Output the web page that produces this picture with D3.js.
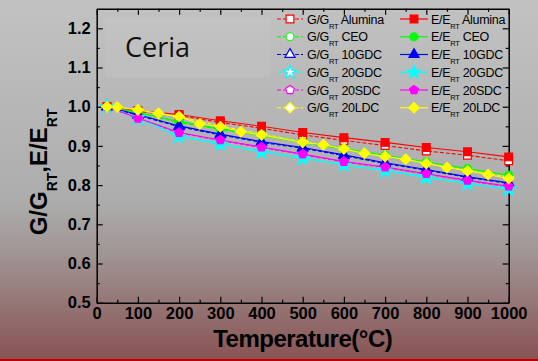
<!DOCTYPE html>
<html>
<head>
<meta charset="utf-8">
<script src="https://cdn.jsdelivr.net/npm/d3@7"></script>
<style>
  body { margin: 0; }
  svg { display: block; }
</style>
</head>
<body>
<svg id="chart" width="538" height="361"></svg>
<script>
const width = 538;
const height = 361;

// temperatures (°C)
const temps = [25, 100, 200, 300, 400, 500, 600, 700, 800, 900, 1000];
const tempsLDC = [25, 50, 100, 150, 200, 250, 300, 350, 400, 500, 550, 600, 650, 700, 750, 800, 850, 900, 950, 1000];

// G/G_RT (dashed, open symbols)
const gAlumina = [1.0, 0.988, 0.977, 0.960, 0.945, 0.928, 0.914, 0.901, 0.887, 0.876, 0.862];
const gCEO     = [1.0, 0.984, 0.960, 0.942, 0.926, 0.908, 0.891, 0.874, 0.857, 0.840, 0.823];
const g10GDC   = [1.0, 0.978, 0.949, 0.928, 0.909, 0.894, 0.875, 0.855, 0.838, 0.820, 0.804];
const g20GDC   = [1.0, 0.970, 0.924, 0.904, 0.884, 0.868, 0.851, 0.836, 0.819, 0.803, 0.789];
const g20SDC   = [1.0, 0.970, 0.933, 0.914, 0.896, 0.878, 0.859, 0.845, 0.828, 0.811, 0.796];
const g20LDC   = [1.0, 0.991, 0.974, 0.951, 0.930, 0.911, 0.894, 0.875, 0.857, 0.839, 0.821];

// E/E_RT (solid, filled symbols)
const eAlumina = [1.0, 0.990, 0.980, 0.964, 0.950, 0.934, 0.921, 0.909, 0.896, 0.885, 0.872];
const eCEO     = [1.0, 0.986, 0.962, 0.944, 0.928, 0.910, 0.893, 0.876, 0.859, 0.842, 0.825];
const e10GDC   = [1.0, 0.980, 0.951, 0.930, 0.911, 0.896, 0.877, 0.857, 0.840, 0.821, 0.806];
const e20GDC   = [1.0, 0.972, 0.926, 0.906, 0.885, 0.870, 0.852, 0.838, 0.821, 0.804, 0.790];
const e20SDC   = [1.0, 0.971, 0.934, 0.915, 0.897, 0.879, 0.860, 0.846, 0.829, 0.812, 0.797];
const e20LDC   = [1.0, 0.999, 0.992, 0.983, 0.975, 0.956, 0.949, 0.936, 0.928, 0.909, 0.903,
                  0.892, 0.881, 0.873, 0.866, 0.855, 0.845, 0.836, 0.827, 0.817];

const materials = ["Alumina", "CEO", "10GDC", "20GDC", "20SDC", "20LDC"];
const colors = ["#ff0000", "#00ff00", "#0000ff", "#00ffff", "#ff00ff", "#ffff00"];

const xTicks = [0, 100, 200, 300, 400, 500, 600, 700, 800, 900, 1000];
const xMinor = [50, 150, 250, 350, 450, 550, 650, 750, 850, 950];
const yTicks = [0.5, 0.6, 0.7, 0.8, 0.9, 1.0, 1.1, 1.2];
const yMinor = [0.55, 0.65, 0.75, 0.85, 0.95, 1.05, 1.15];

// custom symbols
const symbolPentagon = {
    draw(ctx, size) {
        const r = Math.sqrt(size / 2.378);
        for (let i = 0; i < 5; i++) {
            const a = -Math.PI / 2 + i * 2 * Math.PI / 5;
            if (i === 0) ctx.moveTo(r * Math.cos(a), r * Math.sin(a));
            else ctx.lineTo(r * Math.cos(a), r * Math.sin(a));
        }
        ctx.closePath();
    }
};
const symbolRhomb = {
    draw(ctx, size) {
        const r = Math.sqrt(size / 2);
        ctx.moveTo(0, -r); ctx.lineTo(r, 0); ctx.lineTo(0, r); ctx.lineTo(-r, 0);
        ctx.closePath();
    }
};
const symbols = [
    [d3.symbolSquare, 60],
    [d3.symbolCircle, 50],
    [d3.symbolTriangle, 45],
    [d3.symbolStar, 55],
    [symbolPentagon, 50],
    [symbolRhomb, 54]
];

const series = [
    { type: "G", x: temps, y: gAlumina, k: 0 },
    { type: "G", x: temps, y: gCEO, k: 1 },
    { type: "G", x: temps, y: g10GDC, k: 2 },
    { type: "G", x: temps, y: g20GDC, k: 3 },
    { type: "G", x: temps, y: g20SDC, k: 4 },
    { type: "G", x: temps, y: g20LDC, k: 5 },
    { type: "E", x: temps, y: eAlumina, k: 0 },
    { type: "E", x: temps, y: eCEO, k: 1 },
    { type: "E", x: temps, y: e10GDC, k: 2 },
    { type: "E", x: temps, y: e20GDC, k: 3 },
    { type: "E", x: temps, y: e20SDC, k: 4 },
    { type: "E", x: tempsLDC, y: e20LDC, k: 5 }
];

const svg = d3.select("#chart");

// background
const defs = svg.append("defs");
const grad = defs.append("linearGradient")
    .attr("id", "bg").attr("x1", 0).attr("y1", 0).attr("x2", 0).attr("y2", 1);
grad.append("stop").attr("offset", "0").attr("stop-color", "#c2c2c2");
grad.append("stop").attr("offset", "0.55").attr("stop-color", "#adadad");
grad.append("stop").attr("offset", "0.7").attr("stop-color", "#a09595");
grad.append("stop").attr("offset", "1").attr("stop-color", "#885252");
svg.append("rect").attr("width", width).attr("height", height).attr("fill", "url(#bg)");
svg.append("rect").attr("x", 0).attr("y", 359).attr("width", width).attr("height", 2).attr("fill", "#c00000");

const x = d3.scaleLinear().domain([0, 1000]).range([96.7, 508.7]);
const y = d3.scaleLinear().domain([0.5, 1.25]).range([302.7, 8.7]);

// Ceria box
svg.append("rect")
    .attr("x", 105).attr("y", 18).attr("width", 165).attr("height", 59)
    .attr("fill", "#ffffff").attr("opacity", 0.06);
svg.append("text")
    .attr("x", 125).attr("y", 57)
    .attr("font-family", "'Open Sans', sans-serif")
    .attr("font-size", "27px")
    .attr("fill", "#111")
    .text("Ceria");

// axes
const tickFont = "'Liberation Sans', Arial, sans-serif";
function styleAxis(g) {
    g.selectAll("path.domain").attr("stroke", "#000").attr("stroke-width", 1.5);
    g.selectAll(".tick line").attr("stroke", "#000").attr("stroke-width", 1.2);
    g.selectAll("text")
        .attr("font-family", tickFont)
        .attr("font-weight", "bold")
        .attr("font-size", "16.5px")
        .attr("fill", "#000");
}

const axisB = svg.append("g").attr("transform", `translate(0,${y(0.5)})`);
axisB.call(d3.axisBottom(x).tickValues(xTicks).tickSize(-6).tickSizeOuter(0).tickPadding(5).tickFormat(d3.format("d"))).call(styleAxis);
axisB.append("g").call(d3.axisBottom(x).tickValues(xMinor).tickSize(-3).tickSizeOuter(0).tickFormat(""))
    .call(g => g.select(".domain").remove()).call(styleAxis);

const axisT = svg.append("g").attr("transform", `translate(0,${y(1.25)})`);
axisT.call(d3.axisTop(x).tickValues(xTicks).tickSize(-6).tickSizeOuter(0).tickFormat("")).call(styleAxis);
axisT.append("g").call(d3.axisTop(x).tickValues(xMinor).tickSize(-3).tickSizeOuter(0).tickFormat(""))
    .call(g => g.select(".domain").remove()).call(styleAxis);

const axisL = svg.append("g").attr("transform", `translate(${x(0)},0)`);
axisL.call(d3.axisLeft(y).tickValues(yTicks).tickSize(-6).tickSizeOuter(0).tickPadding(6).tickFormat(d3.format(".1f"))).call(styleAxis);
axisL.append("g").call(d3.axisLeft(y).tickValues(yMinor).tickSize(-3).tickSizeOuter(0).tickFormat(""))
    .call(g => g.select(".domain").remove()).call(styleAxis);

const axisR = svg.append("g").attr("transform", `translate(${x(1000)},0)`);
axisR.call(d3.axisRight(y).tickValues(yTicks).tickSize(-6).tickSizeOuter(0).tickFormat("")).call(styleAxis);
axisR.append("g").call(d3.axisRight(y).tickValues(yMinor).tickSize(-3).tickSizeOuter(0).tickFormat(""))
    .call(g => g.select(".domain").remove()).call(styleAxis);

// axis titles
svg.append("text")
    .attr("x", (x(0) + x(1000)) / 2).attr("y", 346.5)
    .attr("text-anchor", "middle")
    .attr("font-family", tickFont).attr("font-weight", "bold")
    .attr("font-size", "24px").attr("letter-spacing", "-0.5px")
    .attr("fill", "#000")
    .text("Temperature(\u00B0C)");

const yTitle = svg.append("text")
    .attr("transform", "translate(46.5,172) rotate(-90)")
    .attr("text-anchor", "middle")
    .attr("font-family", tickFont).attr("font-weight", "bold")
    .attr("font-size", "24px").attr("fill", "#000");
yTitle.append("tspan").text("G/G");
yTitle.append("tspan").attr("font-size", "14px").attr("dy", 10).text("RT");
yTitle.append("tspan").attr("dy", -10).text(",");
yTitle.append("tspan").text("E/E");
yTitle.append("tspan").attr("font-size", "14px").attr("dy", 10).text("RT");

// data
const plot = svg.append("g");
series.forEach(s => {
    const pts = s.x.map((t, i) => [t, s.y[i]]);
    const color = colors[s.k];
    plot.append("path")
        .datum(pts)
        .attr("fill", "none")
        .attr("stroke", color)
        .attr("stroke-width", 1.1)
        .attr("stroke-dasharray", s.type === "G" ? "4,2" : null)
        .attr("d", d3.line().x(d => x(d[0])).y(d => y(d[1])));
    const sym = d3.symbol().type(symbols[s.k][0]).size(symbols[s.k][1]);
    plot.selectAll(null)
        .data(pts)
        .join("path")
        .attr("transform", d => `translate(${x(d[0])},${y(d[1])})`)
        .attr("d", sym)
        .attr("fill", s.type === "G" ? "#ffffff" : color)
        .attr("stroke", color)
        .attr("stroke-width", 1.2);
});

// legend
const legend = svg.append("g");
const rowY = i => 19 + i * 17.75;
const columns = [
    { type: "G", x1: 277, x2: 303, tx: 307, label: "G/G" },
    { type: "E", x1: 400, x2: 428, tx: 431, label: "E/E" }
];
columns.forEach(c => {
    materials.forEach((m, i) => {
        const cy = rowY(i);
        const color = colors[i];
        legend.append("line")
            .attr("x1", c.x1).attr("x2", c.x2).attr("y1", cy).attr("y2", cy)
            .attr("stroke", color).attr("stroke-width", 1.2)
            .attr("stroke-dasharray", c.type === "G" ? "4,2" : null);
        legend.append("path")
            .attr("transform", `translate(${(c.x1 + c.x2) / 2},${cy})`)
            .attr("d", d3.symbol().type(symbols[i][0]).size(symbols[i][1]))
            .attr("fill", c.type === "G" ? "#ffffff" : color)
            .attr("stroke", color).attr("stroke-width", 1.2);
        const t = legend.append("text")
            .attr("x", c.tx).attr("y", cy + 4.5)
            .attr("font-family", tickFont)
            .attr("font-size", "12.5px")
            .attr("letter-spacing", "-0.3px")
            .attr("fill", "#000");
        t.append("tspan").text(c.label);
        t.append("tspan").attr("font-size", "7.5px").attr("dy", 5).text("RT");
        t.append("tspan").attr("dy", -5).text(" " + m);
    });
});
</script>
</body>
</html>
